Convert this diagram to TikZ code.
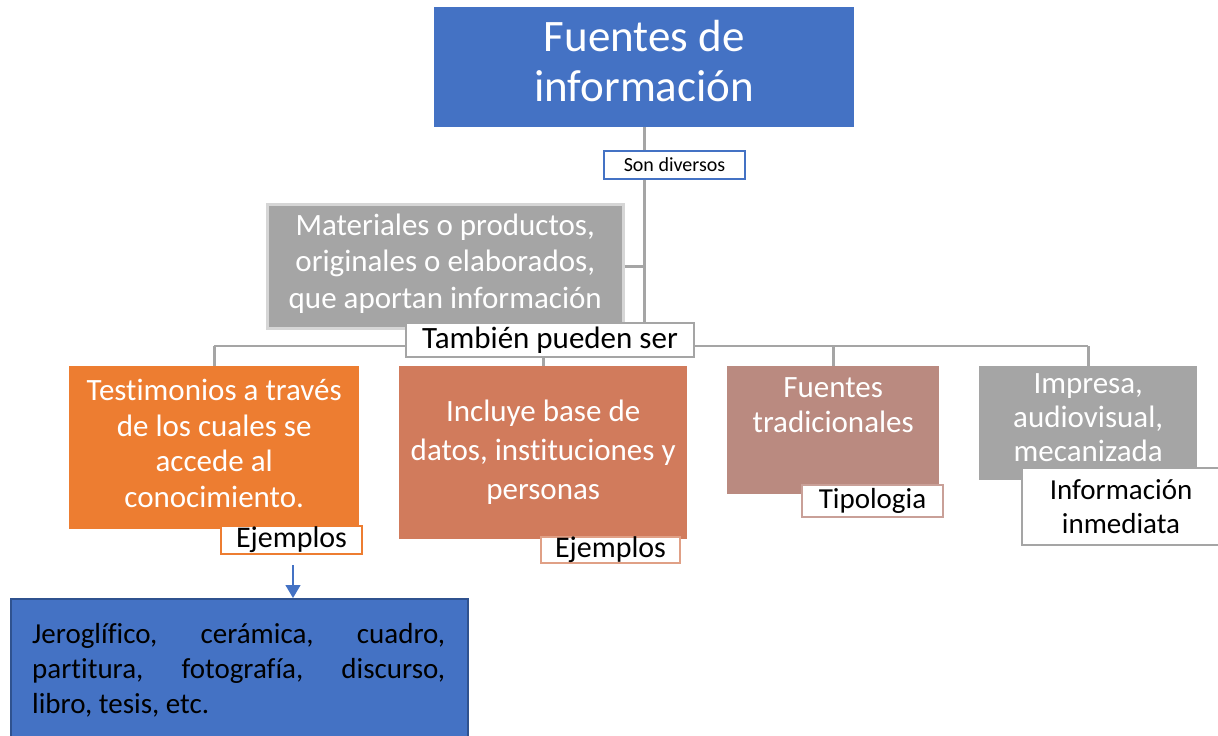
\documentclass[tikz,border=0pt]{standalone}
\usepackage{fontspec}
\setmainfont{Carlito}[Ligatures=NoCommon]
\usetikzlibrary{arrows.meta}
\definecolor{cblue}{HTML}{4472C4}
\definecolor{cdblue}{HTML}{2F528F}
\definecolor{cgray}{HTML}{A5A5A5}
\definecolor{clgray}{HTML}{D6D6D6}
\definecolor{corange}{HTML}{ED7D31}
\definecolor{cterra}{HTML}{D17B5C}
\definecolor{cterrab}{HTML}{E0A086}
\definecolor{cpink}{HTML}{BA8A80}
\definecolor{cpinkb}{HTML}{C9A098}
\tikzset{
  fillbox/.style={rectangle, inner sep=0pt, anchor=north west, align=center, text=white},
  lblbox/.style={rectangle, inner sep=0pt, anchor=north west, align=center, fill=white, line width=2pt, text=black, font=\fontsize{29}{33}\selectfont},
  conn/.style={draw=cgray, line width=2.6pt},
  wtext/.style={inner sep=0pt, align=center, text=white},
}
\begin{document}
\begin{tikzpicture}[x=1pt,y=-1pt]
\useasboundingbox (0,0) rectangle (1218,736);
% main boxes
\node[fillbox, fill=cblue, minimum width=420pt, minimum height=120pt] (title) at (434,7) {};
\node[wtext, font=\fontsize{45}{50}\selectfont] (titlet) at ([yshift=6pt]title.center) {Fuentes de\\información};
\node[fillbox, fill=cgray, draw=clgray, line width=2.5pt, minimum width=356pt, minimum height=124pt] (mat) at (266,203) {};
\node[wtext, font=\fontsize{31}{36.5}\selectfont] (matt) at ([yshift=3pt]mat.center) {Materiales o productos,\\originales o elaborados,\\que aportan información};
\node[fillbox, fill=corange, minimum width=290pt, minimum height=163pt] (org) at (69,366) {};
\node[wtext, font=\fontsize{31}{35.5}\selectfont] (orgt) at ([yshift=4pt]org.center) {Testimonios a través\\de los cuales se\\accede al\\conocimiento.};
\node[fillbox, fill=cterra, minimum width=288pt, minimum height=173pt, font=\fontsize{31}{39}\selectfont] (mid) at (399,366) {Incluye base de\\datos, instituciones y\\personas};
\node[fillbox, fill=cpink, minimum width=212pt, minimum height=128pt] (pink) at (727,366) {};
\node[wtext, anchor=north, font=\fontsize{31}{35}\selectfont] (pinkt) at ([yshift=-11pt]pink.north) {Fuentes\\tradicionales};
\node[fillbox, fill=cgray, minimum width=218pt, minimum height=114pt] (grr) at (979,366) {};
\node[wtext, anchor=north, font=\fontsize{31}{34}\selectfont] (grrt) at ([yshift=-7pt]grr.north) {Impresa,\\audiovisual,\\mecanizada};
\node[fillbox, fill=cblue, draw=cdblue, line width=2pt, minimum width=457pt, minimum height=142pt] (bot) at (10,598) {};
\node[inner sep=0pt, anchor=north west, text width=413pt, align=justify, text=black, font=\fontsize{29}{35}\selectfont] (bott) at (32,623) {\hyphenpenalty=10000 Jeroglífico, cerámica, cuadro,\linebreak partitura, fotografía, discurso,\linebreak libro, tesis, etc.};
% connectors
\coordinate (bar) at (title.south |- 0,346);
\draw[conn] (title.south) -- (bar);
\draw[conn] (mat.east) -- (mat.east -| bar);
\draw[conn] (org.north |- bar) -- (grr.north |- bar);
\draw[conn] (org.north) -- (org.north |- bar);
\draw[conn] (mid.north) -- (mid.north |- bar);
\draw[conn] (pink.north) -- (pink.north |- bar);
\draw[conn] (grr.north) -- (grr.north |- bar);
% labels
\node[lblbox, draw=cblue, minimum width=141pt, minimum height=28pt, font=\fontsize{20}{24}\selectfont] (son) at (603,150) {Son diversos};
\node[lblbox, draw=cgray, minimum width=288pt, minimum height=34pt, font=\fontsize{31}{35}\selectfont] (tam) at (405,322) {También pueden ser};
\node[lblbox, draw=corange, minimum width=141pt, minimum height=28pt, font=\fontsize{30}{33}\selectfont] (ej1) at (220,525) {Ejemplos};
\node[lblbox, draw=cterrab, minimum width=139pt, minimum height=26pt, font=\fontsize{30}{33}\selectfont] (ej2) at (540,536) {Ejemplos};
\node[lblbox, draw=cpinkb, minimum width=141pt, minimum height=32pt] (tip) at (801,484) {Tipologia};
\node[lblbox, draw=cgray, minimum width=198pt, minimum height=77pt, font=\fontsize{29}{34}\selectfont] (inf) at (1021,467) {Información\\inmediata};
% arrow
\coordinate (arrs) at ([xshift=1.5pt, yshift=-10pt]ej1.south);
\draw[cblue, line width=1.3pt, -{Triangle[width=15pt,length=13pt]}] (arrs) -- (arrs |- bot.north);
\end{tikzpicture}
\end{document}
